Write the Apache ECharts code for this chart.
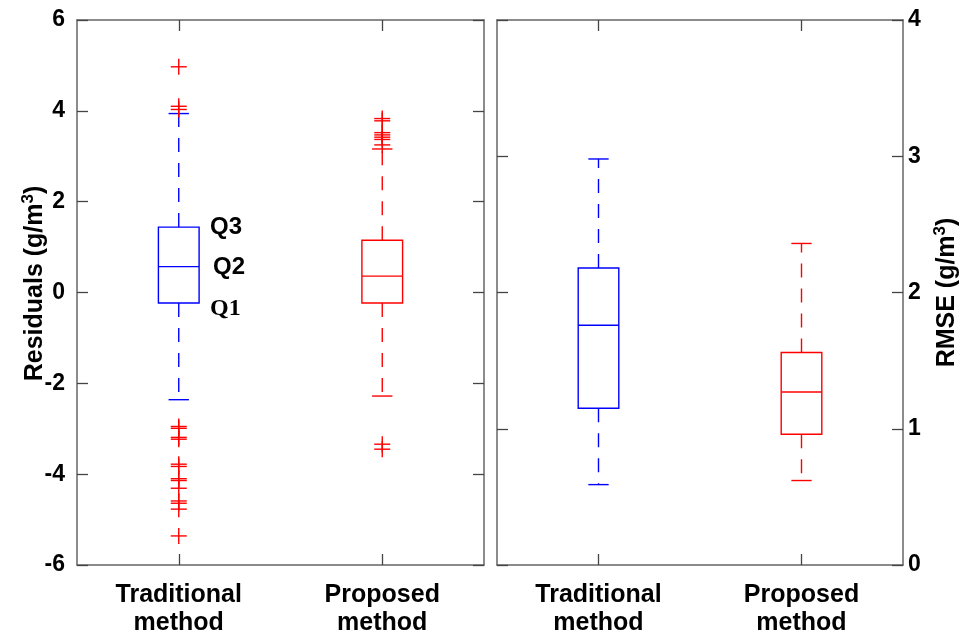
<!DOCTYPE html>
<html lang="en">
<head>
<meta charset="utf-8">
<title>residuals and rmse</title>
<script src="https://cdn.jsdelivr.net/npm/echarts@6/dist/echarts.min.js"></script>
<style>
    html, body { margin: 0; padding: 0; background: #fff; }
    #chart { width: 973px; height: 640px; }
</style>
</head>
<body>
<div id="chart"></div>
<script>
    var categories = ['Traditional\nmethod', 'Proposed\nmethod'];
    // [lower whisker, Q1, median, Q3, upper whisker]
    var residualBoxes = [
        [-2.36, -0.23, 0.57, 1.44, 3.94],
        [-2.28, -0.23, 0.36, 1.15, 3.16]
    ];
    var residualOutTraditional = [4.97, 4.10, 4.03, -2.95, -2.99, -3.19, -3.23, -3.78, -3.83,
        -4.10, -4.14, -4.31, -4.59, -4.64, -4.77, -5.36];
    var residualOutProposed = [3.83, 3.78, 3.52, 3.47, 3.42, 3.37, 3.25, -3.34, -3.45];
    var rmseBoxes = [
        [0.59, 1.15, 1.76, 2.18, 2.98],
        [0.62, 0.96, 1.27, 1.56, 2.36]
    ];
    var residualTicks = [-6, -4, -2, 0, 2, 4, 6];
    var rmseTicks = [0, 1, 2, 3, 4];
    var quartileLabels = ['Q1', 'Q2', 'Q3'];
    var boxColors = ['#0000ff', '#ff0000'];
    var outlierColor = '#ff0000';

    var FONT = 'Liberation Sans, Arial, sans-serif';
    var frame = { lineStyle: { color: '#666', width: 1.5 } };

    function boxRows(boxes) {
        return boxes.map(function (b, i) { return [i].concat(b); });
    }
    function outlierRows(idx, vals) {
        return vals.map(function (v) { return [idx, v]; });
    }

    function renderBox(withQ) {
        return function (params, api) {
            var i = api.value(0);
            var pt = function (k) { return api.coord([i, api.value(k)]); };
            var x = pt(3)[0];
            var yMin = pt(1)[1], yQ1 = pt(2)[1], yMed = pt(3)[1], yQ3 = pt(4)[1], yMax = pt(5)[1];
            var band = api.size([1, 0])[0];
            var half = band * 0.1, cap = band * 0.05;
            var c = boxColors[i];
            var solid = { stroke: c, lineWidth: 1.4 };
            var dashed = { stroke: c, lineWidth: 1.4, lineDash: [14, 11] };
            var kids = [
                { type: 'rect', shape: { x: x - half, y: yQ3, width: half * 2, height: yQ1 - yQ3 },
                  style: { stroke: c, lineWidth: 1.4, fill: 'none' } },
                { type: 'line', shape: { x1: x - half, y1: yMed, x2: x + half, y2: yMed }, style: solid },
                { type: 'line', shape: { x1: x, y1: yQ3, x2: x, y2: yMax }, style: dashed },
                { type: 'line', shape: { x1: x, y1: yQ1, x2: x, y2: yMin }, style: dashed },
                { type: 'line', shape: { x1: x - cap, y1: yMax, x2: x + cap, y2: yMax }, style: solid },
                { type: 'line', shape: { x1: x - cap, y1: yMin, x2: x + cap, y2: yMin }, style: solid }
            ];
            if (withQ && i === 0) {
                var ys = [yQ1 + 6, yMed + 1, yQ3];
                var xs = [x + half + 11, x + half + 14, x + half + 11];
                quartileLabels.forEach(function (t, k) {
                    kids.push({ type: 'text', style: {
                        text: t, x: xs[k], y: ys[k], fill: '#000',
                        fontSize: 24, fontWeight: 'bold',
                        fontFamily: k === 0 ? 'Liberation Serif, Times New Roman, serif' : FONT,
                        align: 'left', verticalAlign: 'middle'
                    } });
                });
            }
            return { type: 'group', children: kids };
        };
    }

    function renderCross(params, api) {
        var p = api.coord([api.value(0), api.value(1)]);
        var s = { stroke: outlierColor, lineWidth: 1.4 };
        return { type: 'group', children: [
            { type: 'line', shape: { x1: p[0] - 8, y1: p[1], x2: p[0] + 8, y2: p[1] }, style: s },
            { type: 'line', shape: { x1: p[0], y1: p[1] - 8, x2: p[0], y2: p[1] + 8 }, style: s }
        ] };
    }

    function catAxis(grid, pos, showLabel) {
        return {
            type: 'category', gridIndex: grid, position: pos, data: categories,
            axisLine: { show: true, onZero: false, lineStyle: frame.lineStyle },
            axisTick: { show: true, inside: true, length: 11, alignWithLabel: true, lineStyle: { color: '#444', width: 1.3 } },
            axisLabel: { show: showLabel, interval: 0, margin: 16, color: '#000', fontSize: 25,
                fontWeight: 'bold', fontFamily: FONT, lineHeight: 28 },
            splitLine: { show: false }
        };
    }

    function valAxis(grid, pos, ticks, showLabel, name, gap, margin, namePad) {
        return {
            type: 'value', gridIndex: grid, position: pos,
            min: ticks[0], max: ticks[ticks.length - 1], interval: ticks[1] - ticks[0],
            axisLine: { show: true, onZero: false, lineStyle: frame.lineStyle },
            axisTick: { show: true, inside: true, length: 11, lineStyle: { color: '#444', width: 1.3 } },
            axisLabel: { show: showLabel, margin: margin || 8, color: '#000', fontSize: 23,
                fontWeight: 'bold', fontFamily: FONT },
            splitLine: { show: false },
            name: name || '', nameLocation: 'middle', nameRotate: 90, nameGap: gap || 0,
            nameMoveOverlap: false,
            nameTextStyle: {
                color: '#000', fontSize: 25, fontWeight: 'bold', fontFamily: FONT,
                padding: namePad || 0,
                rich: { sup: { fontSize: 17, fontWeight: 'bold', fontFamily: FONT, verticalAlign: 'top', padding: [0, 0, 14, 0] } }
            }
        };
    }

    var chart = echarts.init(document.getElementById('chart'));
    chart.setOption({
        animation: false,
        backgroundColor: '#fff',
        grid: [
            { left: 77, right: 489, top: 20, bottom: 75 },
            { left: 497, right: 70, top: 20, bottom: 75 }
        ],
        xAxis: [
            catAxis(0, 'bottom', true),
            catAxis(0, 'top', false),
            catAxis(1, 'bottom', true),
            catAxis(1, 'top', false)
        ],
        yAxis: [
            valAxis(0, 'left', residualTicks, true, 'Residuals (g/m{sup|3})', 26, 12, [0, 0, 0, 18]),
            valAxis(0, 'right', residualTicks, false),
            valAxis(1, 'left', rmseTicks, false),
            valAxis(1, 'right', rmseTicks, true, 'RMSE (g/m{sup|3})', 29, 5)
        ],
        series: [
            { type: 'custom', xAxisIndex: 0, yAxisIndex: 0, renderItem: renderBox(true),
              data: boxRows(residualBoxes), encode: { x: 0, y: [1, 2, 3, 4, 5] } },
            { type: 'custom', xAxisIndex: 0, yAxisIndex: 0, renderItem: renderCross,
              data: outlierRows(0, residualOutTraditional).concat(outlierRows(1, residualOutProposed)),
              encode: { x: 0, y: 1 } },
            { type: 'custom', xAxisIndex: 2, yAxisIndex: 2, renderItem: renderBox(false),
              data: boxRows(rmseBoxes), encode: { x: 0, y: [1, 2, 3, 4, 5] } }
        ]
    });
</script>
</body>
</html>
